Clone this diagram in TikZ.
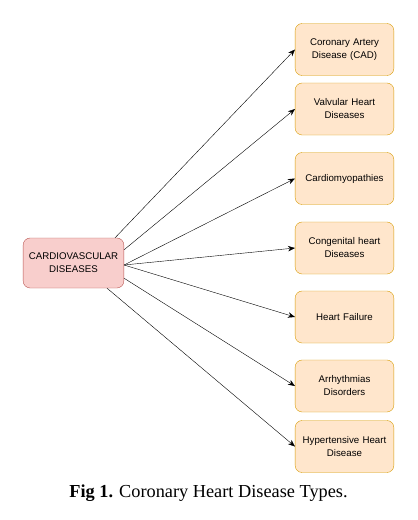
\documentclass[tikz,border=0pt]{standalone}
\usepackage{fontspec}
\setmainfont{Liberation Serif}
\newfontfamily\boxfont{Liberation Sans}
\usetikzlibrary{arrows.meta}
\definecolor{typefill}{HTML}{FFE6CC}
\definecolor{typeline}{HTML}{D79B00}
\definecolor{rootfill}{HTML}{F8CECC}
\definecolor{rootline}{HTML}{B85450}
\tikzset{
  kind/.style={draw=typeline, fill=typefill, rounded corners=7pt,
    minimum width=96pt, minimum height=52pt, text width=92pt, align=center,
    font=\boxfont\fontsize{9.7}{13}\selectfont},
  root/.style={draw=rootline, fill=rootfill, rounded corners=7pt,
    minimum width=97pt, minimum height=50pt, text width=94pt, align=center,
    font=\boxfont\fontsize{9.7}{13}\selectfont}
}
\begin{document}
\begin{tikzpicture}[x=1pt,y=-1pt]
      \useasboundingbox (0,0) rectangle (418,520);
      \draw
        (73.5,263) node[root] (cvd){CARDIOVASCULAR\\DISEASES}
        (344.5,49.5) node[kind] (cad){Coronary Artery\\Disease (CAD)}
        (344.5,109) node[kind] (vhd){Valvular Heart\\Diseases}
        (344.5,178.5) node[kind] (cmp){Cardiomyopathies}
        (344.5,248) node[kind] (chd){Congenital heart\\Diseases}
        (344.5,317) node[kind] (hf){Heart Failure}
        (344.5,386) node[kind] (arr){Arrhythmias\\Disorders}
        (344.5,446.5) node[kind] (hhd){Hypertensive Heart\\Disease}
        (208.5,493) node[font=\fontsize{18.3}{21}\selectfont] (caption){\textbf{Fig 1.} Coronary Heart Disease Types.};
      \begin{scope}[-{Stealth[length=7pt,width=5.5pt]}]
        \draw ([xshift=-9pt]cvd.north east) to (cad.west);
        \draw ([yshift=-12pt]cvd.north east) to (vhd.west);
        \draw ([yshift=-2pt]cvd.east) to (cmp.west);
        \draw ([yshift=-2pt]cvd.east) to (chd.west);
        \draw ([yshift=-2pt]cvd.east) to (hf.west);
        \draw ([yshift=10pt]cvd.south east) to (arr.west);
        \draw ([xshift=-17pt]cvd.south east) to (hhd.west);
      \end{scope}
    \end{tikzpicture}
\end{document}
